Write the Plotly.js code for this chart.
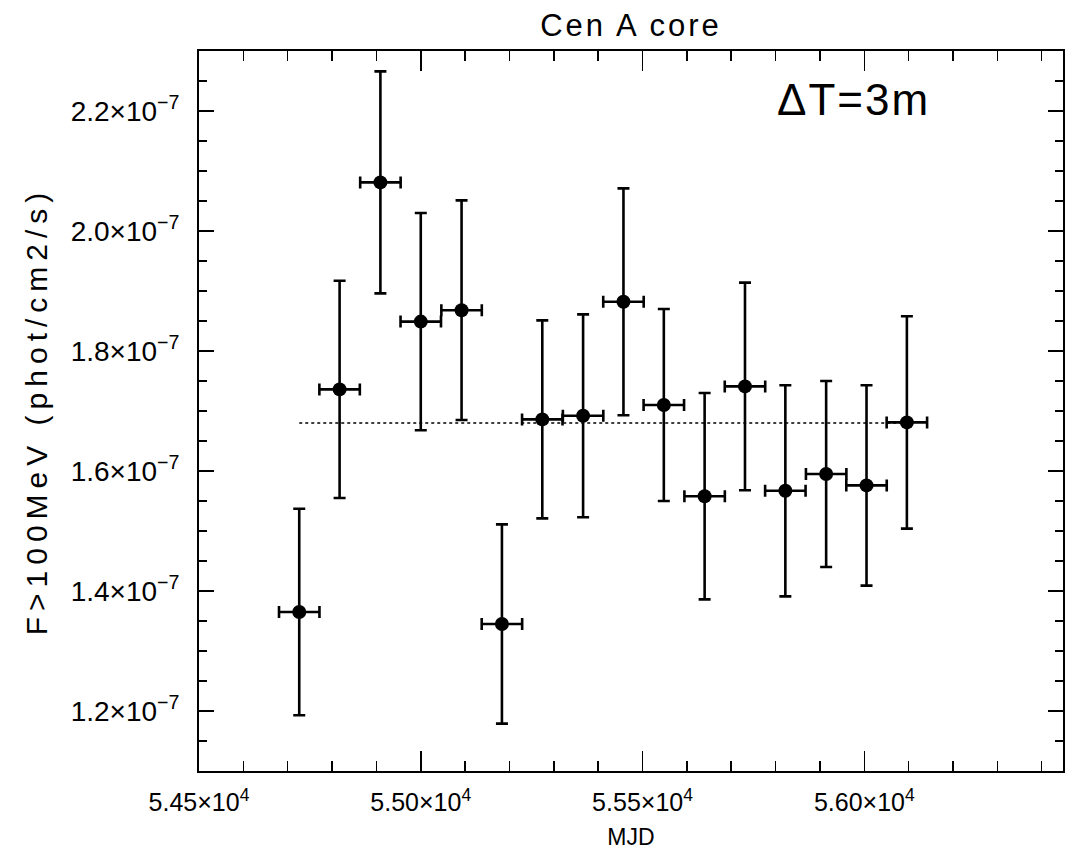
<!DOCTYPE html>
<html>
<head>
<meta charset="utf-8">
<script src="https://cdn.plot.ly/plotly-3.0.1.min.js"></script>
<style>html,body{margin:0;padding:0;background:#fff;}#plot{width:1074px;height:855px;}</style>
</head>
<body>
<div id="plot"></div>
<script>
// MJD bin centres (3-month bins)
const mjd = [54726, 54817, 54909, 55000, 55092, 55183, 55274, 55366,
             55457, 55548, 55640, 55731, 55822, 55914, 56005, 56096];
// half-width of each time bin (days)
const mjdErr = [45.6, 45.6, 45.6, 45.6, 45.6, 45.6, 45.6, 45.6,
                45.6, 45.6, 45.6, 45.6, 45.6, 45.6, 45.6, 45.6];
// flux F>100 MeV (units of 1e-7 phot/cm2/s)
const flux = [1.365, 1.736, 2.081, 1.849, 1.868, 1.345, 1.686, 1.692,
              1.882, 1.710, 1.558, 1.741, 1.567, 1.595, 1.576, 1.681];
const fluxErr = [0.172, 0.181, 0.185, 0.181, 0.183, 0.166, 0.165, 0.169,
                 0.189, 0.160, 0.172, 0.173, 0.176, 0.155, 0.167, 0.177];
const meanFlux = 1.68;

const xTickVals = [54500, 55000, 55500, 56000];
const xTickText = ["5.45×10<sup>4</sup>", "5.50×10<sup>4</sup>", "5.55×10<sup>4</sup>", "5.60×10<sup>4</sup>"];
const yTickVals = [1.2, 1.4, 1.6, 1.8, 2.0, 2.2];
const yTickText = ["1.2×10<sup>−7</sup>", "1.4×10<sup>−7</sup>", "1.6×10<sup>−7</sup>",
                   "1.8×10<sup>−7</sup>", "2.0×10<sup>−7</sup>", "2.2×10<sup>−7</sup>"];

const sc = 1e-7;
const yv = flux.map(v => v * sc);
const ye = fluxErr.map(v => v * sc);

const font = "Liberation Sans, Arial, sans-serif";

const traces = [
  {
    x: [mjd[0], mjd[mjd.length - 1]],
    y: [meanFlux * sc, meanFlux * sc],
    mode: 'lines',
    line: {color: '#000', width: 1.6, dash: 'dot'},
    hoverinfo: 'skip',
    showlegend: false
  },
  {
    x: mjd, y: yv,
    mode: 'markers',
    marker: {color: '#000', size: 14},
    error_y: {type: 'data', array: ye, visible: true, color: '#000', thickness: 2.6, width: 6},
    error_x: {type: 'data', array: mjdErr, visible: true, color: '#000', thickness: 2.6, width: 6},
    showlegend: false
  }
];

const axisCommon = {
  showgrid: false, zeroline: false,
  showline: true, linecolor: '#000', linewidth: 2,
  mirror: 'ticks', ticks: 'inside', tickcolor: '#000', tickwidth: 1.5
};

const layout = {
  width: 1074, height: 855,
  margin: {l: 199, r: 11, t: 51, b: 84},
  paper_bgcolor: '#fff', plot_bgcolor: '#fff',
  title: {text: 'Cen A core', font: {family: font, size: 31, color: '#000'},
          x: 0.5, xref: 'paper', xanchor: 'center', y: 1 - 25 / 855, yref: 'container', yanchor: 'middle'},
  xaxis: Object.assign({}, axisCommon, {
    range: [54500, 56448],
    tickmode: 'array', tickvals: xTickVals, ticktext: xTickText,
    tickfont: {family: font, size: 25, color: '#000'},
    ticklen: 20,
    minor: {dtick: 100, tick0: 54500, ticks: 'inside', ticklen: 10, tickcolor: '#000', tickwidth: 1.5},
    ticklabelstandoff: 8,
    title: {text: 'MJD', font: {family: font, size: 23, color: '#000'}, standoff: 14}
  }),
  yaxis: Object.assign({}, axisCommon, {
    range: [1.1e-7, 2.3e-7],
    tickmode: 'array', tickvals: yTickVals.map(v => v * sc), ticktext: yTickText,
    tickfont: {family: font, size: 28, color: '#000'},
    ticklen: 15,
    minor: {dtick: 0.05e-7, tick0: 1.1e-7, ticks: 'inside', ticklen: 8, tickcolor: '#000', tickwidth: 1.5},
    ticklabelstandoff: 12,
    title: {text: 'F>100MeV (phot/cm2/s)', font: {family: font, size: 30, color: '#000'}, standoff: 14}
  }),
  annotations: [
    {text: 'ΔT=3m', xref: 'paper', yref: 'paper', x: 0.757, y: 0.932,
     xanchor: 'center', yanchor: 'middle', showarrow: false,
     font: {family: font, size: 44, color: '#000'}}
  ]
};

Plotly.newPlot('plot', traces, layout, {displayModeBar: false, staticPlot: true}).then(gd => {
  const spacing = (sel, px) => gd.querySelectorAll(sel).forEach(t => { t.style.letterSpacing = px + 'px'; });
  spacing('text.ytitle', 6);
  spacing('text.gtitle', 3);
  spacing('text.annotation-text', 2);
});
</script>
</body>
</html>
